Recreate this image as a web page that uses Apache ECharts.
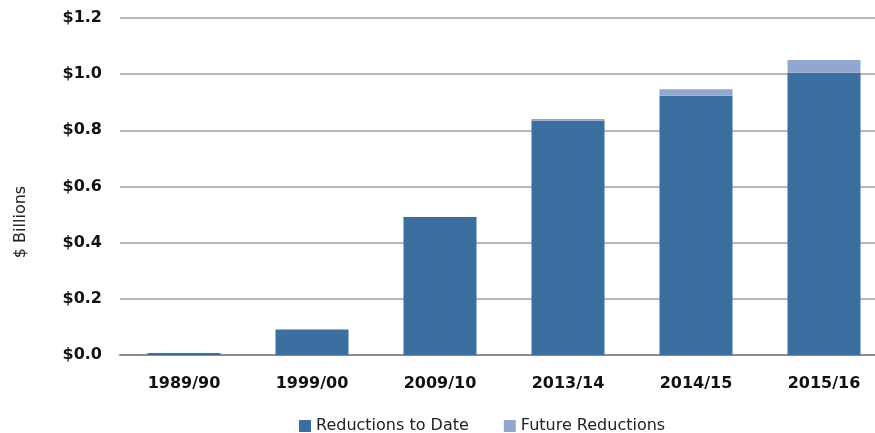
<!DOCTYPE html>
<html><head><meta charset="utf-8">
<script src="https://cdn.jsdelivr.net/npm/echarts@6/dist/echarts.min.js"></script>
<style>html,body{margin:0;padding:0;background:#fff;overflow:hidden}#c{width:890px;height:433px}</style>
</head><body><div id="c"></div>
<script>
var categories = ['1989/90','1999/00','2009/10','2013/14','2014/15','2015/16'];
var reductionsToDate = [0.007, 0.091, 0.491, 0.834, 0.923, 1.005];
var futureReductions = [0, 0, 0, 0.006, 0.023, 0.045];
var yTicks = [0, 0.2, 0.4, 0.6, 0.8, 1.0, 1.2];

var font = '"DejaVu Sans", sans-serif';
var chart = echarts.init(document.getElementById('c'));
chart.setOption({
  animation: false,
  grid: { left: 120, top: 18, width: 768, height: 337, containLabel: false },
  graphic: [{
    type: 'text', x: 21, y: 222, rotation: Math.PI / 2,
    style: { text: '$ Billions', font: '16px ' + font, fill: '#222', textAlign: 'center', textVerticalAlign: 'middle' }
  }],
  legend: {
    top: 413, left: 294, itemWidth: 12, itemHeight: 12, itemGap: 35,
    icon: 'rect',
    textStyle: { fontFamily: font, fontSize: 16, color: '#222' },
    data: ['Reductions to Date', 'Future Reductions']
  },
  xAxis: {
    type: 'category', data: categories,
    axisTick: { show: false },
    axisLine: { lineStyle: { color: '#8a8a8a', width: 2 } },
    axisLabel: { fontFamily: font, fontSize: 16, fontWeight: 'bold', color: '#111', margin: 21 }
  },
  yAxis: {
    type: 'value', min: 0, max: 1.2, interval: 0.2,
    axisLine: { show: false }, axisTick: { show: false },
    splitLine: { lineStyle: { color: '#a0a0a0', width: 1.5 } },
    axisLabel: {
      fontFamily: font, fontSize: 16, fontWeight: 'bold', color: '#111', margin: 18,
      formatter: function (v) { return '$' + v.toFixed(1); }
    }
  },
  series: [
    { name: 'Reductions to Date', type: 'bar', stack: 's', barWidth: 73,
      itemStyle: { color: '#3c6e9f' }, data: reductionsToDate },
    { name: 'Future Reductions', type: 'bar', stack: 's', barWidth: 73,
      itemStyle: { color: '#91a7cd' }, data: futureReductions }
  ]
});
</script></body></html>
